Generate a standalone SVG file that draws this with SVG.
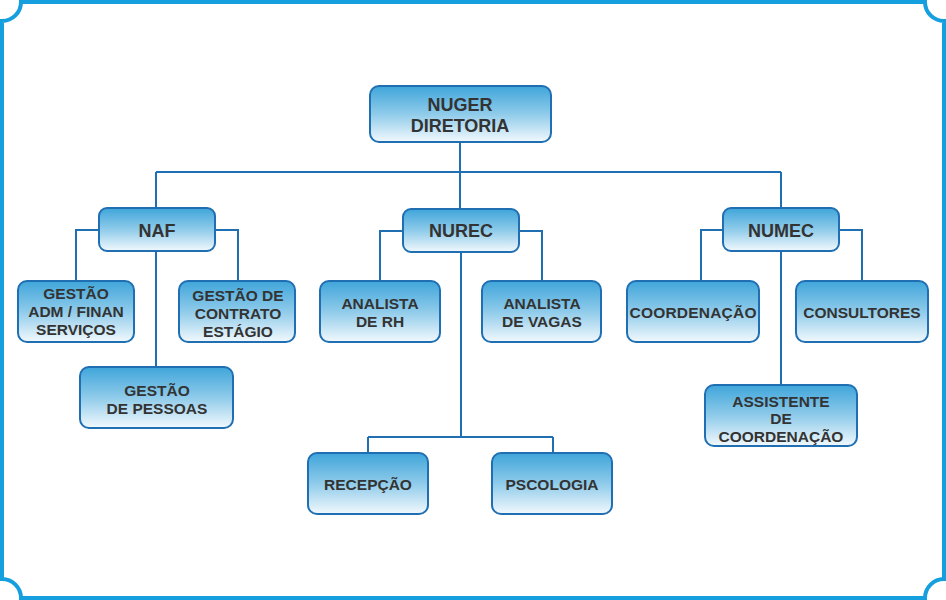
<svg xmlns="http://www.w3.org/2000/svg" width="946" height="600" viewBox="0 0 946 600">
<defs>
<linearGradient id="g" x1="0" y1="0" x2="0" y2="1">
<stop offset="0" stop-color="#3fa5da"/>
<stop offset="0.5" stop-color="#8fcbea"/>
<stop offset="1" stop-color="#f2f9fd"/>
</linearGradient>
<style>
.box{fill:url(#g);stroke:#1f6fb2;stroke-width:2}
.t{font-family:"Liberation Sans",Arial,sans-serif;font-weight:bold;fill:#333;text-anchor:middle;font-size:15.5px}
.big{font-size:18px}
.c{fill:none;stroke:#1f6fb2;stroke-width:2}
</style>
</defs>
<rect width="946" height="600" fill="#fff"/>
<path d="M21,2 H925 A19,19 0 0 0 944,21 V579 A19,19 0 0 0 925,598 H21 A19,19 0 0 0 2,579 V21 A19,19 0 0 0 21,2 Z" fill="none" stroke="#169fde" stroke-width="4"/>
<g id="connectors" class="c">
<path d="M460,143 V172 M156,172 H781 M156,172 V208 M460,172 V209 M781,172 V208"/>
<path d="M99,230 H76 V281 M215,230 H238 V281 M156,251 V367"/>
<path d="M403,231 H380 V281 M519,231 H542 V281 M461,252 V437 M368,437 H553 M368,437 V453 M553,437 V453"/>
<path d="M723,230 H701 V281 M839,230 H862 V281 M781,251 V385"/>
</g>
<g id="nuger"><rect class="box" x="370" y="86" width="181" height="56" rx="9"/><text class="t big" x="460" y="110.5">NUGER</text><text class="t big" x="460" y="132">DIRETORIA</text></g>
<g id="naf"><rect class="box" x="99" y="208" width="116" height="43" rx="8"/><text class="t big" x="157" y="237">NAF</text></g>
<g id="gestao-adm"><rect class="box" x="18" y="281" width="116" height="61" rx="9"/><text class="t" x="76" y="299">GESTÃO</text><text class="t" x="76" y="317">ADM / FINAN</text><text class="t" x="76" y="335">SERVIÇOS</text></g>
<g id="gestao-contrato"><rect class="box" x="179" y="281" width="116" height="61" rx="9"/><text class="t" x="238" y="301">GESTÃO DE</text><text class="t" x="238" y="319">CONTRATO</text><text class="t" x="238" y="337">ESTÁGIO</text></g>
<g id="gestao-pessoas"><rect class="box" x="80" y="367" width="153" height="61" rx="9"/><text class="t" x="157" y="396">GESTÃO</text><text class="t" x="157" y="414">DE PESSOAS</text></g>
<g id="nurec"><rect class="box" x="403" y="209" width="116" height="43" rx="8"/><text class="t big" x="461" y="237">NUREC</text></g>
<g id="analista-rh"><rect class="box" x="320" y="281" width="120" height="61" rx="9"/><text class="t" x="380" y="309">ANALISTA</text><text class="t" x="380" y="327">DE RH</text></g>
<g id="analista-vagas"><rect class="box" x="482" y="281" width="119" height="61" rx="9"/><text class="t" x="542" y="309">ANALISTA</text><text class="t" x="542" y="327">DE VAGAS</text></g>
<g id="recepcao"><rect class="box" x="308" y="453" width="120" height="61" rx="9"/><text class="t" x="368" y="490">RECEPÇÃO</text></g>
<g id="pscologia"><rect class="box" x="492" y="453" width="120" height="61" rx="9"/><text class="t" x="552" y="490">PSCOLOGIA</text></g>
<g id="numec"><rect class="box" x="723" y="208" width="116" height="43" rx="8"/><text class="t big" x="781" y="237">NUMEC</text></g>
<g id="coordenacao"><rect class="box" x="627" y="281" width="132" height="61" rx="9"/><text class="t" x="693" y="318" textLength="127">COORDENAÇÃO</text></g>
<g id="consultores"><rect class="box" x="796" y="281" width="132" height="61" rx="9"/><text class="t" x="862" y="318">CONSULTORES</text></g>
<g id="assistente"><rect class="box" x="705" y="385" width="152" height="61" rx="9"/><text class="t" x="781" y="406.5">ASSISTENTE</text><text class="t" x="781" y="424">DE</text><text class="t" x="781" y="441.5">COORDENAÇÃO</text></g>
</svg>
